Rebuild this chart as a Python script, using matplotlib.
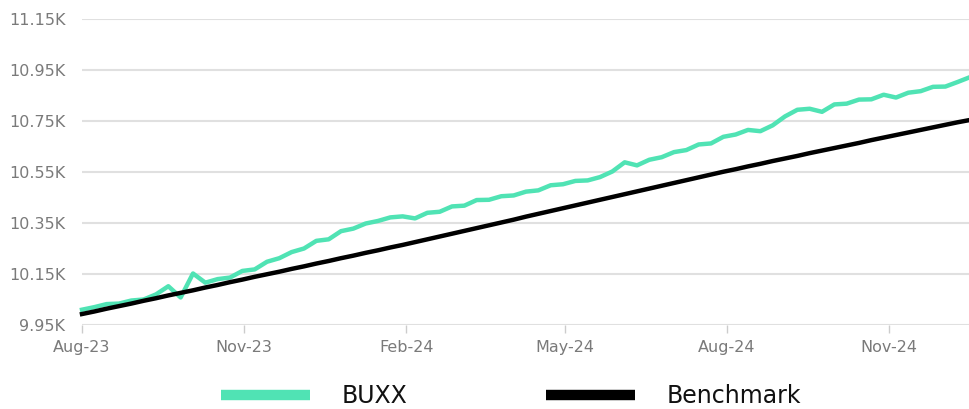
import matplotlib
matplotlib.use("Agg")
import matplotlib.pyplot as plt
from matplotlib.lines import Line2D
from matplotlib.ticker import FuncFormatter
import pandas as pd

# ---- data (values in thousands of dollars, weekly) ----
start_date = "2023-08-01"
n_weeks = 73
buxx = [10.010, 10.020, 10.032, 10.034, 10.046, 10.050, 10.070, 10.102, 10.058, 10.152,
        10.116, 10.130, 10.136, 10.162, 10.168, 10.198, 10.212, 10.236, 10.250, 10.280,
        10.286, 10.318, 10.328, 10.348, 10.358, 10.372, 10.376, 10.368, 10.390, 10.394,
        10.415, 10.418, 10.440, 10.441, 10.455, 10.458, 10.473, 10.478, 10.498, 10.502,
        10.515, 10.517, 10.530, 10.552, 10.588, 10.576, 10.598, 10.608, 10.628, 10.636,
        10.658, 10.662, 10.688, 10.697, 10.715, 10.710, 10.733, 10.768, 10.794, 10.798,
        10.786, 10.815, 10.818, 10.834, 10.835, 10.853, 10.842, 10.861, 10.867, 10.884,
        10.885, 10.903, 10.922]
benchmark = [9.993, 10.003, 10.014, 10.024, 10.034, 10.045, 10.055, 10.066, 10.076, 10.086,
             10.097, 10.107, 10.118, 10.128, 10.139, 10.149, 10.159, 10.170, 10.180, 10.191,
             10.201, 10.212, 10.222, 10.233, 10.243, 10.254, 10.264, 10.275, 10.286, 10.297,
             10.308, 10.319, 10.330, 10.341, 10.352, 10.363, 10.375, 10.386, 10.397, 10.408,
             10.419, 10.430, 10.441, 10.452, 10.463, 10.474, 10.485, 10.496, 10.507, 10.518,
             10.529, 10.540, 10.551, 10.561, 10.572, 10.582, 10.593, 10.603, 10.613, 10.624,
             10.634, 10.644, 10.654, 10.664, 10.675, 10.685, 10.695, 10.705, 10.715, 10.725,
             10.735, 10.745, 10.754]
series_names = ["BUXX", "Benchmark"]
x_tick_dates = ["2023-08-01", "2023-11-01", "2024-02-01", "2024-05-01", "2024-08-01", "2024-11-01"]
x_tick_labels = ["Aug-23", "Nov-23", "Feb-24", "May-24", "Aug-24", "Nov-24"]
y_ticks = [9.95, 10.15, 10.35, 10.55, 10.75, 10.95, 11.15]

dates = pd.date_range(start_date, periods=n_weeks, freq="7D")

green = "#50e3b4"
black = "#000000"

fig = plt.figure(figsize=(9.70, 4.09), dpi=100)
ax = fig.add_axes([82/970, 1 - 325/409, 1 - 82/970, (325 - 19)/409])

ax.plot(dates, buxx, color=green, lw=3.2, solid_joinstyle="round", zorder=3, clip_on=False)
ax.plot(dates, benchmark, color=black, lw=3.2, solid_joinstyle="round", zorder=4, clip_on=False)

ax.set_ylim(9.95, 11.15)
ax.set_xlim(dates[0], dates[-1])
ax.set_yticks(y_ticks)
ax.yaxis.set_major_formatter(FuncFormatter(lambda v, p: f"{v:.2f}K"))
ax.set_xticks(pd.to_datetime(x_tick_dates))
ax.set_xticklabels(x_tick_labels)

ax.grid(axis="y", color="#e0e0e0", lw=1.5)
ax.set_axisbelow(True)
for s in ax.spines.values():
    s.set_visible(False)

ax.tick_params(axis="y", length=0, pad=12, labelsize=11.5, labelcolor="#7a7a7a")
ax.tick_params(axis="x", length=6, width=1, color="#cccccc", pad=5, labelsize=11.5, labelcolor="#7a7a7a")
for lab in ax.get_xticklabels() + ax.get_yticklabels():
    lab.set_fontfamily("DejaVu Sans")

handles = [Line2D([0], [0], color=green, lw=7.5, solid_capstyle="butt"),
           Line2D([0], [0], color=black, lw=7.5, solid_capstyle="butt")]
leg = fig.legend(handles, series_names, loc="center", bbox_to_anchor=(0.527, 0.032), ncol=2,
                 frameon=False, handlelength=3.77, handletextpad=1.31, columnspacing=5.9,
                 prop={"family": "DejaVu Sans", "size": 17})
for t in leg.get_texts():
    t.set_color("#111111")

fig.savefig("out.png", dpi=100)
